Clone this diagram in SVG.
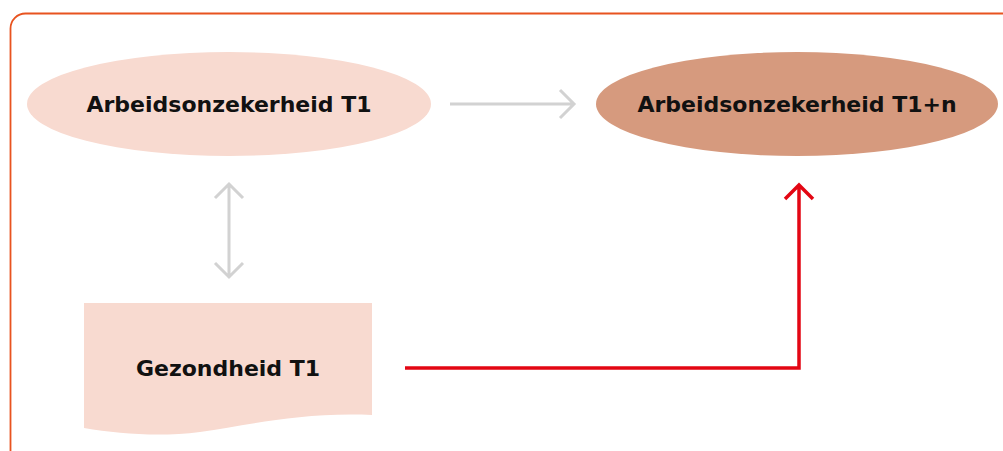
<svg xmlns="http://www.w3.org/2000/svg" width="1003" height="451" viewBox="0 0 1003 451">
<style>
.lbl{font-family:"DejaVu Sans","Liberation Sans",sans-serif;font-weight:bold;font-size:22px;fill:#111;text-anchor:middle;dominant-baseline:central}
.gray{fill:none;stroke:#d2d2d2;stroke-width:3}
.red{fill:none;stroke:#e30613;stroke-width:3.5}
</style>
<rect x="10.5" y="13.5" width="1010" height="460" rx="15" fill="none" stroke="#e8531f" stroke-width="1.8"/>
<g id="node-arbeid-t1">
<ellipse cx="229" cy="104" rx="202" ry="52" fill="#f8dad0"/>
<text class="lbl" x="229" y="104">Arbeidsonzekerheid T1</text>
</g>
<g id="node-arbeid-t1n">
<ellipse cx="797" cy="104" rx="201" ry="52" fill="#d69a7e"/>
<text class="lbl" x="797" y="104">Arbeidsonzekerheid T1+n</text>
</g>
<g id="node-gezond">
<path d="M84 303 H372 V415 C300 412 250 425 200 432 C160 437 120 434 84 428 Z" fill="#f8dad0"/>
<text class="lbl" x="228" y="368">Gezondheid T1</text>
</g>
<g id="connectors">
<path class="gray" d="M450 104 H574 M560 90 L574 104 L560 118"/>
<path class="gray" d="M229 184 V277 M215 198 L229 184 L243 198 M215 263 L229 277 L243 263"/>
<path class="red" d="M405 368 H799 V185 M785 199 L799 185 L813 199"/>
</g>
</svg>
